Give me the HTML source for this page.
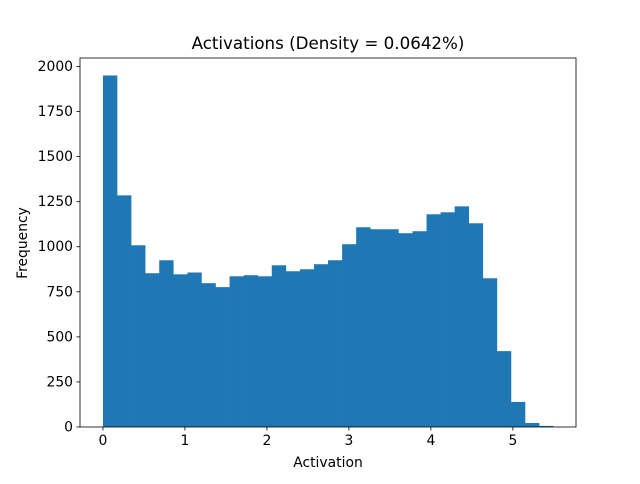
<!DOCTYPE html>
<html><head><meta charset="utf-8"><style>
body{margin:0;background:#fff;font-family:"DejaVu Sans","Liberation Sans",sans-serif}
svg text{font-family:"DejaVu Sans","Liberation Sans",sans-serif;fill:#000}
</style></head><body>
<svg id="chart" width="640" height="480">
<rect width="640" height="480" fill="#fff"/>
<g id="bars"></g>
<g id="axes"></g>
<text x="328" y="49" font-size="16.7" text-anchor="middle">Activations (Density = 0.0642%)</text>
<text x="328" y="467" font-size="13.9" text-anchor="middle">Activation</text>
<text transform="translate(27,243) rotate(-90)" font-size="13.9" text-anchor="middle">Frequency</text>
</svg>
<script>
const counts=[1950,1285,1008,853,925,847,857,798,776,836,842,836,897,864,875,903,925,1014,1108,1097,1097,1075,1086,1180,1191,1224,1130,825,421,139,22,6];
const binStart=0, binWidth=0.1716;
const xTicks=[0,1,2,3,4,5];
const yTicks=[0,250,500,750,1000,1250,1500,1750,2000];
const L=80,R=576,T=58,B=427;
const xmin=-0.28,xmax=5.77,ymax=2047;
const sx=v=>L+(v-xmin)/(xmax-xmin)*(R-L);
const sy=v=>B-v/ymax*(B-T);
const NS="http://www.w3.org/2000/svg";
const bars=document.getElementById('bars'),axes=document.getElementById('axes');
counts.forEach((c,i)=>{
 const r=document.createElementNS(NS,'rect');
 const x0=sx(binStart+i*binWidth),x1=sx(binStart+(i+1)*binWidth);
 r.setAttribute('x',x0);r.setAttribute('width',x1-x0+0.3);
 r.setAttribute('y',sy(c));r.setAttribute('height',B-sy(c));
 r.setAttribute('fill','#1f77b4');
 
 
 bars.appendChild(r);
});
const frame=document.createElementNS(NS,'rect');
frame.setAttribute('x',L);frame.setAttribute('y',T);frame.setAttribute('width',R-L);frame.setAttribute('height',B-T);
frame.setAttribute('fill','none');frame.setAttribute('stroke','#000');frame.setAttribute('stroke-width','0.8');


axes.appendChild(frame);
xTicks.forEach(t=>{
 const x=sx(t);
 const l=document.createElementNS(NS,'line');
 l.setAttribute('x1',x);l.setAttribute('x2',x);l.setAttribute('y1',B);l.setAttribute('y2',B+3.5);l.setAttribute('stroke','#000');l.setAttribute('stroke-width','0.8');
 
 
 axes.appendChild(l);
 const tx=document.createElementNS(NS,'text');
 tx.setAttribute('x',x);tx.setAttribute('y',B+18);tx.setAttribute('font-size','13.9');tx.setAttribute('text-anchor','middle');
 tx.textContent=t;
 
 
 axes.appendChild(tx);
});
yTicks.forEach(t=>{
 const y=sy(t);
 const l=document.createElementNS(NS,'line');
 l.setAttribute('x1',L-3.5);l.setAttribute('x2',L);l.setAttribute('y1',y);l.setAttribute('y2',y);l.setAttribute('stroke','#000');l.setAttribute('stroke-width','0.8');
 
 
 axes.appendChild(l);
 const tx=document.createElementNS(NS,'text');
 tx.setAttribute('x',L-7);tx.setAttribute('y',y+4.5);tx.setAttribute('font-size','13.9');tx.setAttribute('text-anchor','end');
 tx.textContent=t;
 
 
 axes.appendChild(tx);
});
</script>
</body></html>
